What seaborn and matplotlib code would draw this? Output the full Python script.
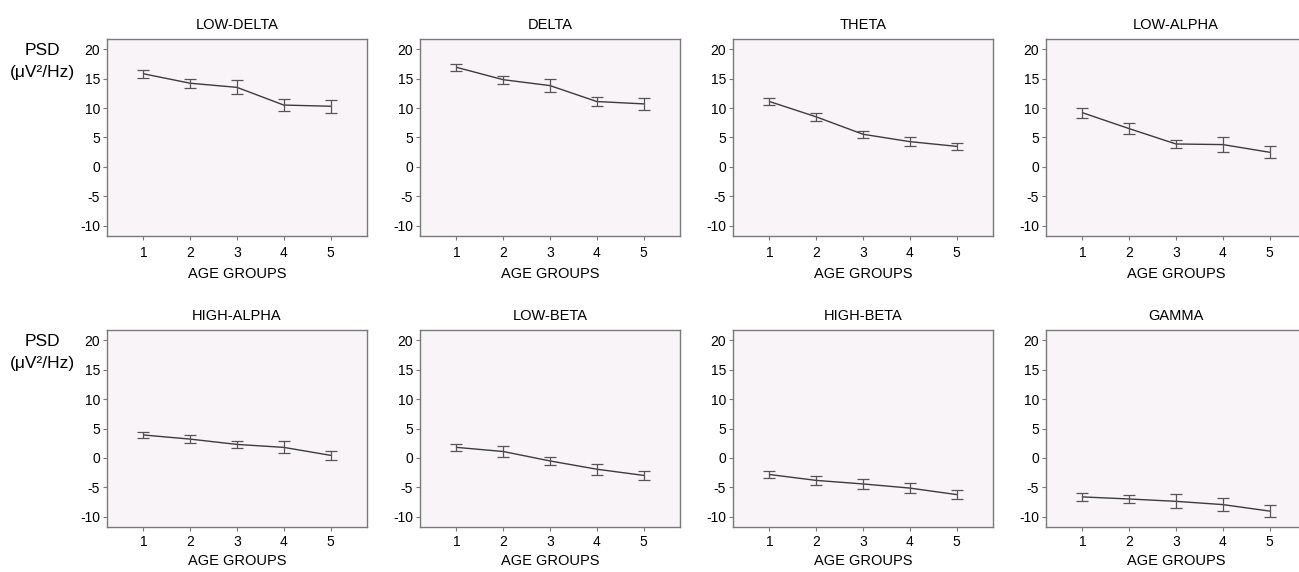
import numpy as np
import pandas as pd
import matplotlib.pyplot as plt
import seaborn as sns

# mean PSD and error bar half-width per age group
age_groups = [1, 2, 3, 4, 5]
bands = ["LOW-DELTA", "DELTA", "THETA", "LOW-ALPHA",
         "HIGH-ALPHA", "LOW-BETA", "HIGH-BETA", "GAMMA"]

low_delta = [15.8, 14.2, 13.5, 10.5, 10.3]
low_delta_err = [0.7, 0.75, 1.2, 0.95, 1.1]
delta = [16.9, 14.8, 13.8, 11.1, 10.7]
delta_err = [0.6, 0.7, 1.15, 0.8, 1.0]
theta = [11.1, 8.5, 5.55, 4.3, 3.5]
theta_err = [0.65, 0.7, 0.6, 0.75, 0.6]
low_alpha = [9.2, 6.5, 3.9, 3.8, 2.5]
low_alpha_err = [0.85, 0.9, 0.75, 1.25, 1.0]
high_alpha = [3.9, 3.2, 2.3, 1.8, 0.45]
high_alpha_err = [0.55, 0.7, 0.6, 1.0, 0.8]
low_beta = [1.8, 1.1, -0.5, -1.9, -2.95]
low_beta_err = [0.6, 0.85, 0.75, 0.9, 0.8]
high_beta = [-2.8, -3.8, -4.4, -5.1, -6.2]
high_beta_err = [0.6, 0.7, 0.9, 0.9, 0.8]
gamma = [-6.6, -6.95, -7.35, -7.9, -9.0]
gamma_err = [0.73, 0.68, 1.2, 1.1, 1.0]

means = [low_delta, delta, theta, low_alpha, high_alpha, low_beta, high_beta, gamma]
errs = [low_delta_err, delta_err, theta_err, low_alpha_err,
        high_alpha_err, low_beta_err, high_beta_err, gamma_err]

rows = []
for band, m, e in zip(bands, means, errs):
    for g, mv, ev in zip(age_groups, m, e):
        rows.append({"band": band, "age": g, "psd": mv, "err": ev})
df = pd.DataFrame(rows)

sns.set_theme(style="ticks")
plt.rcParams["font.family"] = ["Liberation Sans", "DejaVu Sans"]
plt.rcParams["axes.unicode_minus"] = False
plt.rcParams["text.color"] = "black"
plt.rcParams["axes.labelcolor"] = "black"
plt.rcParams["xtick.labelcolor"] = "black"
plt.rcParams["ytick.labelcolor"] = "black"

W, H = 1299, 572
fig = plt.figure(figsize=(W / 100, H / 100), dpi=100)

lefts = [107, 420, 733, 1046]
tops = [39, 330]
ax_w, ax_h = 260, 197
frame = "#7a7a7a"

for i, band in enumerate(bands):
    r, c = divmod(i, 4)
    ax = fig.add_axes([lefts[c] / W, 1 - (tops[r] + ax_h) / H, ax_w / W, ax_h / H])
    ax.set_facecolor("#f8f4f8")
    sub = df[df["band"] == band]

    sns.lineplot(data=sub, x="age", y="psd", ax=ax, color="#3c3c3c",
                 linewidth=1.0, errorbar=None)
    ax.errorbar(sub["age"], sub["psd"], yerr=sub["err"], fmt="none",
                ecolor="#555555", elinewidth=0.9, capsize=4.3, capthick=0.9)

    ax.set_xlim(0.22, 5.78)
    ax.set_ylim(-11.7, 21.7)
    ax.set_xticks(age_groups)
    ax.set_yticks([-10, -5, 0, 5, 10, 15, 20])
    ax.set_title(band, fontsize=10.5, pad=7)
    ax.set_xlabel("AGE GROUPS", fontsize=10.5, labelpad=5 if r == 0 else 3.5)
    ax.set_ylabel("")
    ax.tick_params(labelsize=10, length=3, width=0.8, color=frame, pad=2)
    ax.tick_params(axis="x", pad=4 if r == 0 else 3)
    for s in ax.spines.values():
        s.set_color(frame)
        s.set_linewidth(1.0)

    if c == 0:
        ax.text(-0.25, 0.94, "PSD", transform=ax.transAxes, fontsize=12.5,
                ha="center", va="center")
        ax.text(-0.25, 0.83, "(\u03bcV\u00b2/Hz)", transform=ax.transAxes,
                fontsize=12.5, ha="center", va="center")

fig.savefig("out.png", dpi=100)
